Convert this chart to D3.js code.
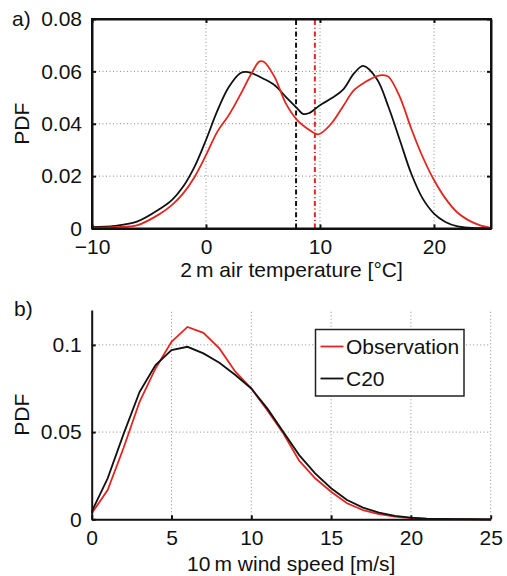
<!DOCTYPE html>
<html>
<head>
<meta charset="utf-8">
<script src="https://cdn.jsdelivr.net/npm/d3@7"></script>
<style>
  body { margin: 0; background: #fff; }
  text { font-family: "Liberation Sans", Arial, sans-serif; fill: #111; }
  .grid { stroke: #8a8a8a; stroke-width: 1; stroke-dasharray: 1,2.5; }
  .axis path, .axis line { stroke: #111; stroke-width: 2; }
</style>
</head>
<body>
<div id="chart"></div>
<script>
// panel a) temperature PDF
var tempX = [-10, -8, -6, -4, -3, -2, -1, 0, 1, 2, 3, 3.5, 4, 5, 6, 7, 8, 8.5, 9, 10, 11, 12, 13, 13.8, 15, 16, 17, 18, 19, 20, 21, 22, 23, 25];
var tempC20 = [0.0005, 0.001, 0.0027, 0.0076, 0.0108, 0.016, 0.0236, 0.0338, 0.045, 0.054, 0.0593, 0.0598, 0.0593, 0.0573, 0.0548, 0.0503, 0.0459, 0.0438, 0.044, 0.0471, 0.0497, 0.0529, 0.0593, 0.0621, 0.057, 0.0465, 0.0338, 0.021, 0.0115, 0.0057, 0.0025, 0.0009, 0.0003, 0.0001];
var tempObsX = [-10, -8, -6, -4, -3, -2, -1, 0, 1, 2, 3, 4, 4.7, 5.1, 6, 7, 8, 9, 9.7, 10, 11, 12, 13, 14, 15, 15.5, 16, 17, 18, 19, 20, 21, 22, 23, 24, 25];
var tempObs = [0.0002, 0.0005, 0.0013, 0.0057, 0.0089, 0.0134, 0.0197, 0.028, 0.037, 0.0433, 0.051, 0.0593, 0.0638, 0.0636, 0.058, 0.0478, 0.0414, 0.0378, 0.036, 0.0362, 0.0401, 0.0465, 0.0529, 0.056, 0.0582, 0.0586, 0.058, 0.0503, 0.0382, 0.0274, 0.0185, 0.0115, 0.0063, 0.0032, 0.0013, 0.0002];
var meanC20 = 7.9, meanObs = 9.55;
var tempXTicks = [-10, 0, 10, 20];
var tempYTicks = [0, 0.02, 0.04, 0.06, 0.08];

// panel b) wind speed PDF
var windX = [0, 1, 2, 3, 4, 5, 6, 7, 8, 9, 10, 11, 12, 13, 14, 15, 16, 17, 18, 19, 20, 21, 22, 23, 24, 25];
var windObs = [0.0034, 0.0168, 0.041, 0.0674, 0.0865, 0.1018, 0.1103, 0.1069, 0.098, 0.0846, 0.075, 0.0626, 0.0493, 0.0336, 0.0235, 0.0158, 0.0092, 0.0053, 0.003, 0.0015, 0.0007, 0.0003, 0.0001, 0.00005, 0, 0];
var windC20 = [0.0044, 0.0235, 0.049, 0.073, 0.0884, 0.097, 0.0989, 0.0951, 0.0897, 0.0827, 0.075, 0.0636, 0.0502, 0.0368, 0.0263, 0.0178, 0.0111, 0.0067, 0.0038, 0.002, 0.001, 0.0004, 0.0002, 0.0001, 0.00005, 0];
var windXTicks = [0, 5, 10, 15, 20, 25];
var windYTicks = [0, 0.05, 0.1];

var red = "#e2261f";
var fs = "21px";

var svg = d3.select("#chart").append("svg").attr("width", 507).attr("height", 576);

function fmtY(d) { return d === 0 ? "0" : (d === 0.1 ? "0.1" : d3.format(".2f")(d)); }
function fmtX(d) { return d < 0 ? "\u2212" + Math.abs(d) : String(d); }

// ---------- panel a ----------
var xa = d3.scaleLinear().domain([-10, 25]).range([92, 491]);
var ya = d3.scaleLinear().domain([0, 0.08]).range([228.5, 19]);
var ga = svg.append("g");

// grid
ga.selectAll(".gx").data([0, 10, 20]).enter().append("line").attr("class", "grid")
  .attr("x1", function (d) { return xa(d); }).attr("x2", function (d) { return xa(d); })
  .attr("y1", ya(0)).attr("y2", ya(0.08));
ga.selectAll(".gy").data([0.02, 0.04, 0.06]).enter().append("line").attr("class", "grid")
  .attr("y1", function (d) { return ya(d); }).attr("y2", function (d) { return ya(d); })
  .attr("x1", xa(-10)).attr("x2", xa(25));

// mean lines (dash-dot)
ga.selectAll(".mean").data([[meanC20, "#111"], [meanObs, red]]).enter().append("line")
  .attr("x1", function (d) { return xa(d[0]); }).attr("x2", function (d) { return xa(d[0]); })
  .attr("y1", ya(0)).attr("y2", ya(0.08))
  .attr("stroke", function (d) { return d[1]; }).attr("stroke-width", 2)
  .attr("stroke-dasharray", "5,2.6,1,2.7");

var lineA = d3.line().curve(d3.curveCatmullRom.alpha(0.5));
ga.append("path").attr("d", lineA(tempX.map(function (t, i) { return [xa(t), ya(tempC20[i])]; })))
  .attr("fill", "none").attr("stroke", "#111").attr("stroke-width", 1.8);
ga.append("path").attr("d", lineA(tempObsX.map(function (t, i) { return [xa(t), ya(tempObs[i])]; })))
  .attr("fill", "none").attr("stroke", red).attr("stroke-width", 1.8);

// axes with inward ticks
ga.append("g").attr("class", "axis").attr("transform", "translate(0," + ya(0) + ")")
  .call(d3.axisBottom(xa).tickValues(tempXTicks).tickSizeInner(-4).tickSizeOuter(0).tickPadding(11).tickFormat(fmtX))
  .call(function (g) { g.selectAll("text").style("font-size", fs).attr("fill", "#111"); });
ga.append("g").attr("class", "axis").attr("transform", "translate(" + xa(-10) + ",0)")
  .call(d3.axisLeft(ya).tickValues(tempYTicks).tickSizeInner(-4).tickSizeOuter(0).tickPadding(10).tickFormat(fmtY))
  .call(function (g) { g.selectAll("text").style("font-size", fs).attr("fill", "#111"); });
ga.append("g").attr("class", "axis").attr("transform", "translate(0," + ya(0.08) + ")")
  .call(d3.axisTop(xa).tickValues(tempXTicks).tickSizeInner(-4).tickSizeOuter(0).tickFormat(""));
ga.append("g").attr("class", "axis").attr("transform", "translate(" + xa(25) + ",0)")
  .call(d3.axisRight(ya).tickValues(tempYTicks).tickSizeInner(-4).tickSizeOuter(0).tickFormat(""));
ga.append("rect").attr("x", xa(-10)).attr("y", ya(0.08)).attr("width", xa(25) - xa(-10)).attr("height", ya(0) - ya(0.08))
  .attr("fill", "none").attr("stroke", "#111").attr("stroke-width", 2);

ga.append("text").attr("x", 12).attr("y", 26).style("font-size", fs).text("a)");
ga.append("text").attr("transform", "translate(29," + ((ya(0) + ya(0.08)) / 2) + ") rotate(-90)")
  .attr("text-anchor", "middle").style("font-size", fs).text("PDF");
ga.append("text").attr("x", (xa(-10) + xa(25)) / 2).attr("y", 277).attr("text-anchor", "middle")
  .style("font-size", fs).text("2\u2009m air temperature [\u00b0C]");

// ---------- panel b ----------
var xb = d3.scaleLinear().domain([0, 25]).range([91.7, 490.7]);
var yb = d3.scaleLinear().domain([0, 0.12]).range([519.3, 310]);
var gb = svg.append("g");

gb.selectAll(".gx").data([5, 10, 15, 20, 25]).enter().append("line").attr("class", "grid")
  .attr("x1", function (d) { return xb(d); }).attr("x2", function (d) { return xb(d); })
  .attr("y1", yb(0)).attr("y2", yb(0.12));
gb.selectAll(".gy").data([0.05, 0.1]).enter().append("line").attr("class", "grid")
  .attr("y1", function (d) { return yb(d); }).attr("y2", function (d) { return yb(d); })
  .attr("x1", xb(0)).attr("x2", xb(25));

var lineB = d3.line();
gb.append("path").attr("d", lineB(windX.map(function (w, i) { return [xb(w), yb(windObs[i])]; })))
  .attr("fill", "none").attr("stroke", red).attr("stroke-width", 1.8);
gb.append("path").attr("d", lineB(windX.map(function (w, i) { return [xb(w), yb(windC20[i])]; })))
  .attr("fill", "none").attr("stroke", "#111").attr("stroke-width", 1.8);

gb.append("g").attr("class", "axis").attr("transform", "translate(0," + yb(0) + ")")
  .call(d3.axisBottom(xb).tickValues(windXTicks).tickSizeInner(-4).tickSizeOuter(0).tickPadding(11).tickFormat(fmtX))
  .call(function (g) { g.selectAll("text").style("font-size", fs).attr("fill", "#111"); });
gb.append("g").attr("class", "axis").attr("transform", "translate(" + xb(0) + ",0)")
  .call(d3.axisLeft(yb).tickValues(windYTicks).tickSizeInner(-4).tickSizeOuter(0).tickPadding(10).tickFormat(fmtY))
  .call(function (g) { g.selectAll("text").style("font-size", fs).attr("fill", "#111"); });

gb.append("text").attr("x", 14).attr("y", 316).style("font-size", fs).text("b)");
gb.append("text").attr("transform", "translate(29," + ((yb(0) + yb(0.12)) / 2) + ") rotate(-90)")
  .attr("text-anchor", "middle").style("font-size", fs).text("PDF");
gb.append("text").attr("x", (xb(0) + xb(25)) / 2).attr("y", 571).attr("text-anchor", "middle")
  .style("font-size", fs).text("10\u2009m wind speed [m/s]");

// legend
var legendItems = [["Observation", red], ["C20", "#111"]];
var lg = gb.append("g");
lg.append("rect").attr("x", 315.5).attr("y", 329.5).attr("width", 148.5).attr("height", 66.5)
  .attr("fill", "#fff").attr("stroke", "#222").attr("stroke-width", 1.5);
var li = lg.selectAll(".li").data(legendItems).enter().append("g")
  .attr("transform", function (d, i) { return "translate(0," + (346.5 + i * 32) + ")"; });
li.append("line").attr("x1", 320.5).attr("x2", 343.5).attr("y1", 0).attr("y2", 0)
  .attr("stroke", function (d) { return d[1]; }).attr("stroke-width", 1.8);
li.append("text").attr("x", 346).attr("y", 7.5).style("font-size", fs).text(function (d) { return d[0]; });
</script>
</body>
</html>
